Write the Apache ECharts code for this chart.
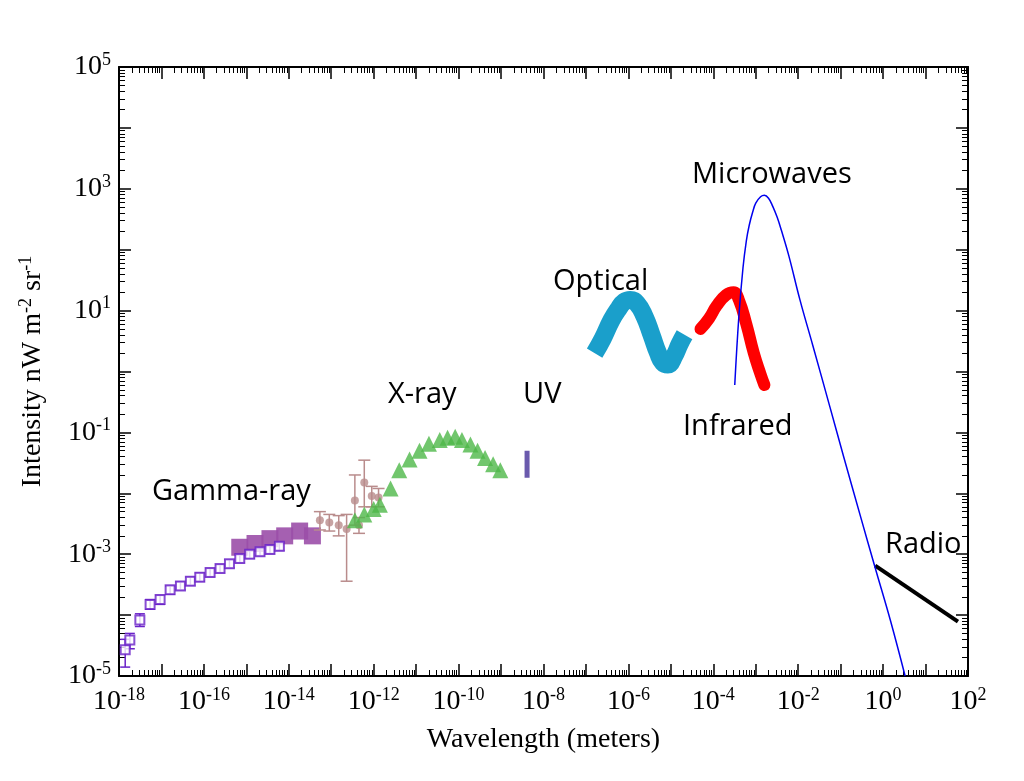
<!DOCTYPE html>
<html><head><meta charset="utf-8">
<script src="https://cdn.jsdelivr.net/npm/echarts@6/dist/echarts.min.js"></script>
<style>html,body{margin:0;background:#fff}#c{width:1024px;height:781px}</style>
</head><body><div id="c"></div>
<script>
// Data: [wavelength (m), intensity nW m^-2 sr^-1]
const gammaOpen = [[1.4e-18,2.7e-5],[1.8e-18,3.9e-5],[3.1e-18,8.3e-5],[5.4e-18,1.5e-4],[9.3e-18,1.8e-4],[1.6e-17,2.6e-4],[2.8e-17,3.0e-4],[4.8e-17,3.6e-4],[8e-17,4.2e-4],[1.4e-16,5.0e-4],[2.4e-16,5.8e-4],[4e-16,7.0e-4],[7e-16,8.5e-4],[1.2e-15,1.0e-3],[2.1e-15,1.1e-3],[3.6e-15,1.2e-3],[6e-15,1.35e-3]];
const gammaOpenErr = [[1.4e-18,1.4e-5,4e-5],[1.8e-18,2.8e-5,5e-5],[3.1e-18,6.5e-5,1.05e-4],[5.4e-18,1.25e-4,1.8e-4],[9.3e-18,1.5e-4,2.1e-4],[1.6e-17,2.2e-4,3e-4],[2.8e-17,2.6e-4,3.5e-4],[4.8e-17,3.1e-4,4.2e-4],[8e-17,3.6e-4,4.9e-4],[1.4e-16,4.3e-4,5.8e-4],[2.4e-16,5e-4,6.7e-4],[4e-16,6e-4,8.1e-4],[7e-16,7.3e-4,9.8e-4],[1.2e-15,8.6e-4,1.16e-3],[2.1e-15,9.5e-4,1.27e-3],[3.6e-15,1.03e-3,1.4e-3],[6e-15,1.15e-3,1.55e-3]];
const gammaFilled = [[7e-16,1.3e-3],[1.6e-15,1.5e-3],[3.6e-15,1.8e-3],[8e-15,2.0e-3],[1.8e-14,2.4e-3],[3.6e-14,2.0e-3]];
const brownPts = [[5.4e-14,3.6e-3],[9e-14,3.3e-3],[1.5e-13,3.0e-3],[2.3e-13,2.6e-3],[3.6e-13,7.6e-3],[4.5e-13,3.0e-3],[6e-13,1.5e-2],[9e-13,9e-3],[1.3e-12,8.5e-3]];
const brownErr = [[5.4e-14,2.5e-3,5e-3],[9e-14,2.4e-3,4.5e-3],[1.5e-13,2e-3,4.3e-3],[2.3e-13,3.6e-4,4.5e-3],[3.6e-13,3e-3,2e-2],[4.5e-13,2.2e-3,4e-3],[6e-13,6e-3,3.5e-2],[9e-13,6e-3,1.3e-2],[1.3e-12,6e-3,1.2e-2]];
const xray = [[3.6e-13,3.6e-3],[6e-13,4.5e-3],[1.0e-12,5.5e-3],[1.4e-12,6.5e-3],[2.5e-12,1.2e-2],[4e-12,2.4e-2],[7e-12,3.6e-2],[1.2e-11,5e-2],[2e-11,6.5e-2],[3.6e-11,7.5e-2],[5.5e-11,8.2e-2],[8.3e-11,8.5e-2],[1.2e-10,7.5e-2],[1.9e-10,6.3e-2],[2.8e-10,5e-2],[4.2e-10,3.8e-2],[6.5e-10,3e-2],[9.6e-10,2.4e-2]];
const uv = [[4.1e-9,0.018],[4.1e-9,0.05]];
const optical = [[1.6e-7,2.0],[2.5e-7,3.5],[4e-7,7],[6e-7,11],[8e-7,14],[1.1e-6,15],[1.6e-6,13],[2.4e-6,8],[3.5e-6,4],[5e-6,2],[6.5e-6,1.4],[8.5e-6,1.3],[1.2e-5,1.8],[1.6e-5,2.8],[2.1e-5,4]];
const infrared = [[5e-5,5],[8e-5,7.5],[1.2e-4,12],[2e-4,18],[3e-4,20],[4e-4,15],[6e-4,6],[9e-4,2],[1.3e-3,0.9],[1.6e-3,0.6]];
const microwave = [[3.2e-4,0.6],[4e-4,8],[5e-4,50],[6e-4,140],[7e-4,250],[8.5e-4,420],[1e-3,580],[1.3e-3,740],[1.6e-3,780],[2e-3,700],[2.5e-3,520],[3.2e-3,340],[4e-3,210],[6e-3,80],[1.1e-2,15],[2.2e-2,2.7],[5.6e-2,0.26],[0.12,3.8e-2],[0.29,4.3e-3],[0.65,6e-4],[1.5,8e-5],[3.3,1e-5]];
const radio = [[0.65,6.5e-4],[58,7.8e-5]];
const labels = [["Gamma-ray",152,477],["X-ray",388,380],["UV",523,380],["Optical",553,267],["Infrared",683,412],["Microwaves",692,160],["Radio",885,530]];

const chart = echarts.init(document.getElementById('c'));
function fmtX(v){const e=Math.round(Math.log10(v)); return (e%2===0)?'10{s|'+e+'}':'';}
function fmtY(v){const e=Math.round(Math.log10(v)); return (Math.abs(e)%2===1)?'10{s|'+e+'}':'';}
const rich={s:{fontSize:18,verticalAlign:'top',padding:[0,0,14,0],fontFamily:'Liberation Serif'}};
function errSeries(data,color,w){return {type:'custom',data:data,z:3,renderItem:function(p,api){
  const x=api.value(0),a=api.coord([x,api.value(1)]),b=api.coord([x,api.value(2)]);
  const st={stroke:color,lineWidth:1.5};
  return {type:'group',children:[
   {type:'line',shape:{x1:a[0],y1:a[1],x2:b[0],y2:b[1]},style:st},
   {type:'line',shape:{x1:a[0]-w,y1:a[1],x2:a[0]+w,y2:a[1]},style:st},
   {type:'line',shape:{x1:b[0]-w,y1:b[1],x2:b[0]+w,y2:b[1]},style:st}]};}};}
const axisCommon={type:'log',logBase:10,interval:1,axisLine:{lineStyle:{color:'#000',width:2}},
  axisTick:{inside:true,length:12,lineStyle:{color:'#000',width:1.5}},
  minorTick:{show:true,splitNumber:9,length:6,lineStyle:{color:'#000'}},splitLine:{show:false}};
chart.setOption({
  animation:false,
  grid:{left:119,right:56,top:67,bottom:105},
  xAxis:[Object.assign({},axisCommon,{min:1e-18,max:1e2,name:'Wavelength (meters)',nameLocation:'middle',nameGap:50,
     nameTextStyle:{fontFamily:'Liberation Serif',fontSize:28,color:'#000'},
     axisLabel:{formatter:fmtX,rich:rich,fontFamily:'Liberation Serif',fontSize:28,color:'#000',margin:10,showMinLabel:true,showMaxLabel:true,interval:0}}),
    Object.assign({},axisCommon,{min:1e-18,max:1e2,position:'top',axisLabel:{show:false}})],
  yAxis:[Object.assign({},axisCommon,{min:1e-5,max:1e5,
     name:'Intensity nW m{s|-2} sr{s|-1}',nameLocation:'middle',nameGap:70,
     nameTextStyle:{fontFamily:'Liberation Serif',fontSize:28,color:'#000',rich:rich},
     axisLabel:{formatter:fmtY,rich:rich,fontFamily:'Liberation Serif',fontSize:28,color:'#000',margin:8,interval:0,showMinLabel:true,showMaxLabel:true}}),
    Object.assign({},axisCommon,{min:1e-5,max:1e5,position:'right',axisLabel:{show:false}})],
  graphic:labels.map(l=>({type:'text',left:l[1],top:l[2],style:{text:l[0],font:'29px "Open Sans"',fill:'#000'}})),
  series:[
    errSeries(gammaOpenErr,'#6a22c8',5),
    {type:'scatter',data:gammaOpen,symbol:'rect',symbolSize:9,itemStyle:{color:'#fff',borderColor:'#6a22c8',borderWidth:2},z:4},
    {type:'scatter',data:gammaFilled,symbol:'rect',symbolSize:17,itemStyle:{color:'#9b4fa8',opacity:0.9},z:2},
    errSeries(brownErr,'#b98c8c',6),
    {type:'scatter',data:brownPts,symbolSize:8,itemStyle:{color:'#b98c8c'},z:4},
    {type:'scatter',data:xray,symbol:'triangle',symbolSize:16,itemStyle:{color:'#4db848'},z:5},
    {type:'line',data:uv,symbol:'none',lineStyle:{color:'#6a5aad',width:5}},
    {type:'line',data:optical,smooth:true,symbol:'none',lineStyle:{color:'#1a9fcb',width:18}},
    {type:'line',data:infrared,smooth:true,symbol:'none',lineStyle:{color:'#ff0000',width:12,cap:'round'}},
    {type:'line',data:microwave,smooth:0.4,symbol:'none',lineStyle:{color:'#0000ee',width:1.5},z:6},
    {type:'line',data:radio,symbol:'none',lineStyle:{color:'#000',width:4}}
  ]
});
</script></body></html>
